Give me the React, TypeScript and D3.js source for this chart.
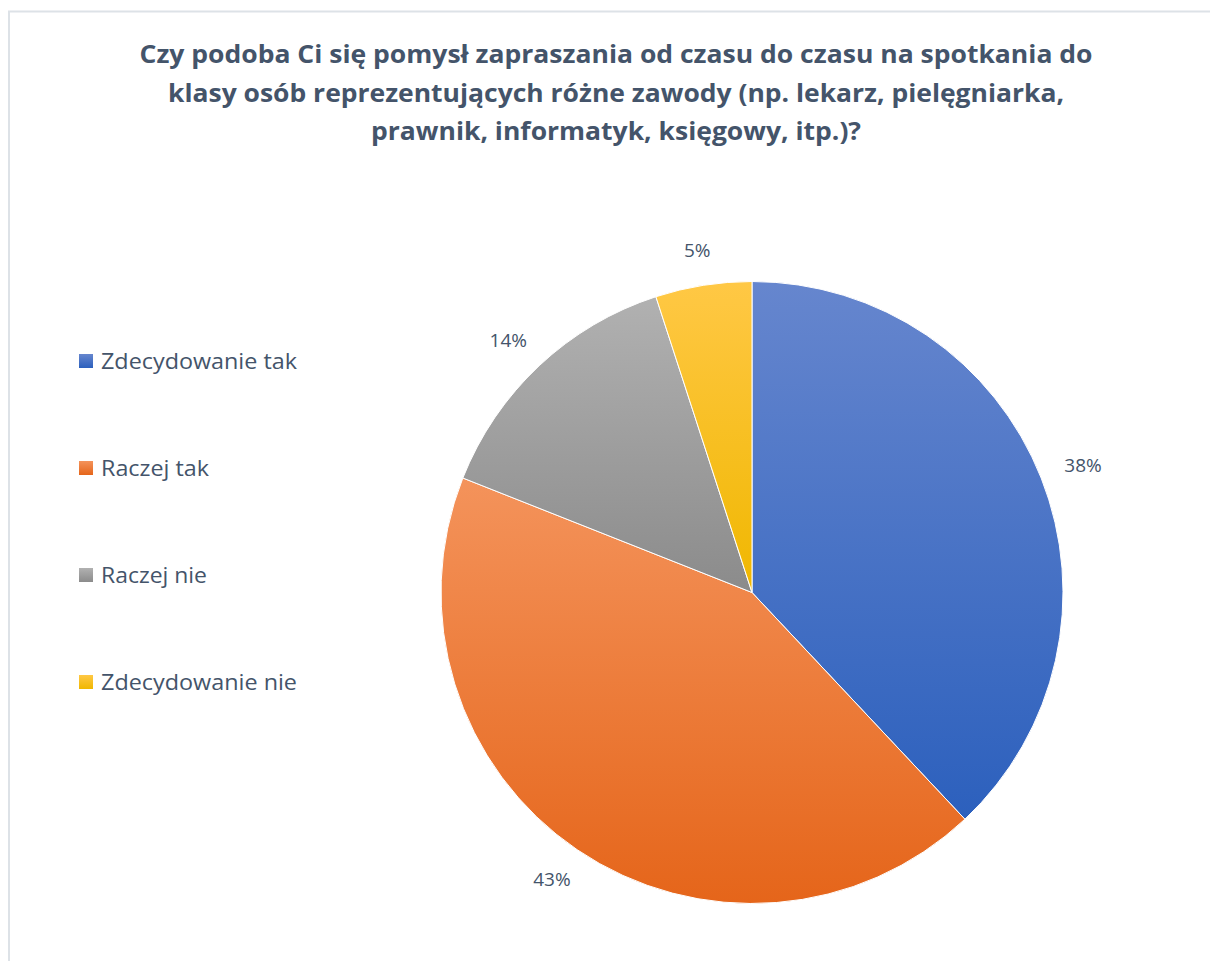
import React from "react";
import * as d3 from "d3";

const categories = ["Zdecydowanie tak", "Raczej tak", "Raczej nie", "Zdecydowanie nie"];
const values = [38, 43, 14, 5];
const colorsTop = ["#6686ce", "#f4935b", "#b1b1b1", "#ffc845"];
const colorsBottom = ["#2c60bd", "#e5651a", "#8b8b8b", "#f0b700"];
const titleLines = [
  "Czy podoba Ci się pomysł zapraszania od czasu do czasu na spotkania do",
  "klasy osób reprezentujących różne zawody (np. lekarz, pielęgniarka,",
  "prawnik, informatyk, księgowy, itp.)?",
];
const titleWidths = [953, 896, 490];
const legendWidths = [196, 108, 106, 196];

const W = 1210;
const H = 961;
const cx = 752;
const cy = 592.5;
const R = 311;
const textColor = "#44546a";
const font = "'Open Sans', 'Noto Sans', 'DejaVu Sans', sans-serif";

export default function App() {
  const pie = d3.pie<number>().sort(null).value((d) => d).startAngle(0).endAngle(2 * Math.PI);
  const arcs = pie(values);
  const arc = d3.arc<d3.PieArcDatum<number>>().innerRadius(0).outerRadius(R);
  const labelR = R + 27;
  const total = d3.sum(values);
  const legendY = d3.scalePoint<string>().domain(categories).range([361, 682]);

  return (
    <svg width={W} height={H} style={{ position: "absolute", left: 0, top: 0, background: "#fff" }}>
      <defs>
        {categories.map((c, i) => (
          <linearGradient key={c} id={`g${i}`} x1="0" y1="0" x2="0" y2="1">
            <stop offset="0%" stopColor={colorsTop[i]} />
            <stop offset="100%" stopColor={colorsBottom[i]} />
          </linearGradient>
        ))}
      </defs>
      <rect x={9} y={11.5} width={W + 10} height={H + 10} fill="#fff" stroke="#dde2e7" strokeWidth={2} />
      {titleLines.map((t, i) => (
        <text
          key={i}
          x={616}
          y={63 + i * 38.5}
          textAnchor="middle"
          fontFamily={font}
          fontWeight="bold"
          fontSize={25}
          fill={textColor}
          textLength={titleWidths[i]}
          lengthAdjust="spacingAndGlyphs"
        >
          {t}
        </text>
      ))}
      <g transform={`translate(${cx},${cy})`}>
        {arcs.map((a, i) => (
          <path key={i} d={arc(a) || ""} fill={`url(#g${i})`} stroke="#fff" strokeWidth={1} />
        ))}
        {arcs.map((a, i) => {
          const mid = (a.startAngle + a.endAngle) / 2;
          const s = Math.sin(mid);
          const c = Math.cos(mid);
          const label = `${Math.round((values[i] / total) * 100)}%`;
          const w = label.length * 12;
          const h = 18;
          const x = labelR * s + (w / 2) * s;
          const y = -labelR * c - (h / 2) * c;
          return (
            <text
              key={"l" + i}
              x={x}
              y={y}
              textAnchor="middle"
              dominantBaseline="central"
              fontFamily={font}
              fontSize={19}
              fill={textColor}
            >
              {label}
            </text>
          );
        })}
      </g>
      {categories.map((c, i) => {
        const y = legendY(c) as number;
        return (
          <g key={c}>
            <rect x={79} y={y - 7} width={14} height={14} fill={`url(#g${i})`} />
            <text
              x={101}
              y={y}
              dominantBaseline="central"
              fontFamily={font}
              fontSize={21}
              fill={textColor}
              textLength={legendWidths[i]}
              lengthAdjust="spacingAndGlyphs"
            >
              {c}
            </text>
          </g>
        );
      })}
    </svg>
  );
}
